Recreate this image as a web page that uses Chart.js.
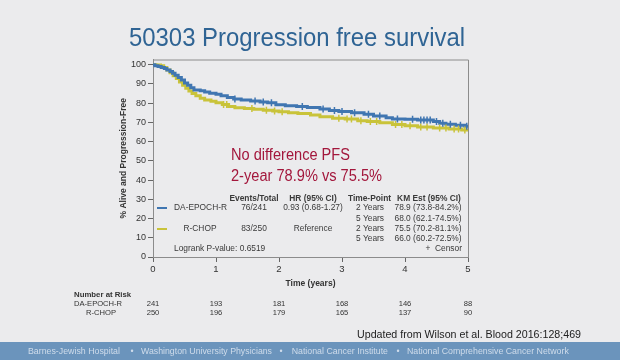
<!DOCTYPE html>
<html>
<head>
<meta charset="utf-8">
<script src="https://cdn.jsdelivr.net/npm/chart.js@4/dist/chart.umd.min.js"></script>
<style>
  html, body { margin: 0; padding: 0; background: #ebebed; }
  canvas { display: block; }
</style>
</head>
<body>
<canvas id="c" width="620" height="360"></canvas>
<script>
// ---- Data ----
const seriesNames = ["DA-EPOCH-R", "R-CHOP"];
const epochT = [0,0.03,0.08,0.13,0.18,0.22,0.27,0.31,0.35,0.40,0.45,0.50,0.55,0.60,0.65,0.75,0.82,0.90,1.00,1.08,1.18,1.28,1.40,1.55,1.70,1.82,1.95,2.10,2.28,2.45,2.65,2.80,2.95,3.15,3.35,3.50,3.70,3.80,4.00,4.20,4.45,4.55,4.65,4.80,4.95,5.00];
const epochS = [100,99.5,99,98.5,98,97.3,96.5,95.5,94.5,93.3,92,90.5,89.3,88,86.9,86.5,85.8,85.2,84.6,83.8,82.9,82.2,81.6,81.1,80.6,80.2,79.2,78.7,78.2,77.7,77.0,76.2,75.6,75.0,74.2,73.3,72.4,71.8,71.6,71.2,70.4,69.6,69.0,68.5,68.0,68.0];
const rchopT = [0,0.05,0.12,0.17,0.22,0.27,0.32,0.37,0.42,0.47,0.52,0.57,0.62,0.68,0.75,0.82,0.92,1.00,1.10,1.20,1.30,1.45,1.60,1.75,1.90,2.00,2.15,2.30,2.50,2.65,2.85,3.05,3.25,3.40,3.60,3.80,4.00,4.20,4.45,4.70,4.90,5.00];
const rchopS = [100,99.8,99.5,98.5,97.3,95.8,94.3,92.8,91,89.3,87.8,86.3,85,83.8,82.5,81.7,81.0,80.2,79.3,78.3,77.6,77.2,76.8,76.3,75.9,75.5,75.0,74.6,73.8,72.9,72.2,71.7,70.9,70.4,69.8,68.9,68.2,67.6,67.1,66.6,66.0,66.0];
const epochCensorT = [1.30,1.62,1.75,1.88,2.37,2.70,2.88,3.00,3.20,3.42,3.60,3.88,4.12,4.25,4.30,4.35,4.40,4.50,4.60,4.72,4.88,4.98];
const epochCensorS = [82.2,81.1,80.6,80.2,78.2,77.0,76.2,75.6,75.0,74.2,73.3,71.8,71.6,71.2,71.2,71.2,71.2,70.4,69.6,69.0,68.5,68.0];
const rchopCensorT = [1.12,1.17,1.57,1.80,1.93,2.05,2.95,3.08,3.15,3.30,3.45,3.55,3.85,3.95,4.08,4.25,4.35,4.55,4.65,4.78,4.85,4.95];
const rchopCensorS = [79.3,79.3,77.2,76.3,75.9,75.5,72.2,71.7,71.7,70.9,70.4,70.4,68.9,68.9,68.2,67.6,67.6,67.1,67.1,66.6,66.6,66.0];
const xTicks = [0,1,2,3,4,5];
const yTicks = [0,10,20,30,40,50,60,70,80,90,100];
const riskTimes = [0,1,2,3,4,5];
const riskEpoch = [241,193,181,168,146,88];
const riskRchop = [250,196,179,165,137,90];
const tableHeaders = ["Events/Total","HR (95% CI)","Time-Point","KM Est (95% CI)"];
const tableEpoch = ["76/241","0.93 (0.68-1.27)"];
const tableRchop = ["83/250","Reference"];
const timePoints = ["2 Years","5 Years"];
const kmEpoch = ["78.9 (73.8-84.2%)","68.0 (62.1-74.5%)"];
const kmRchop = ["75.5 (70.2-81.1%)","66.0 (60.2-72.5%)"];
const footerParts = ["Barnes-Jewish Hospital","Washington University Physicians","National Cancer Institute","National Comprehensive Cancer Network"];

const BLUE = "#4076b1";
const YELLOW = "#c9c33a";
const FONT = "'Liberation Sans', Arial, sans-serif";

const toXY = (ts, ss) => ts.map((t, i) => ({x: t, y: ss[i]}));

// draw text squeezed to a given width if wider
function txt(ctx, s, x, y, w) {
  if (w) ctx.fillText(s, x, y, w); else ctx.fillText(s, x, y);
}

const overlay = {
  id: "overlay",
  afterDraw(chart) {
    const ctx = chart.ctx;
    const a = chart.chartArea;
    const xs = chart.scales.x;
    ctx.save();
    // frame top/right
    ctx.strokeStyle = "#8c8c8c";
    ctx.lineWidth = 1;
    ctx.beginPath();
    ctx.moveTo(a.left, a.top + 0.5);
    ctx.lineTo(a.right + 0.5, a.top + 0.5);
    ctx.lineTo(a.right + 0.5, a.bottom);
    ctx.stroke();

    // title
    ctx.fillStyle = "#2f6494";
    ctx.font = "25px " + FONT;
    ctx.textAlign = "left";
    ctx.textBaseline = "alphabetic";
    txt(ctx, "50303 Progression free survival", 129, 46, 336);

    // annotation
    ctx.fillStyle = "#a3173c";
    ctx.font = "16px " + FONT;
    txt(ctx, "No difference PFS", 231, 160, 119);
    txt(ctx, "2-year 78.9% vs 75.5%", 231, 181, 151);

    // inner table
    ctx.fillStyle = "#3a3a3a";
    ctx.textBaseline = "middle";
    ctx.font = "bold 8.4px " + FONT;
    ctx.textAlign = "center";
    ctx.fillText(tableHeaders[0], 254, 198.5);
    ctx.fillText(tableHeaders[1], 313, 198.5);
    ctx.fillText(tableHeaders[2], 369.5, 198.5);
    ctx.fillText(tableHeaders[3], 429, 198.5);
    ctx.font = "8.4px " + FONT;
    ctx.textAlign = "left";
    ctx.fillText(seriesNames[0], 174, 208);
    ctx.textAlign = "center";
    ctx.fillText(seriesNames[1], 200, 229);
    ctx.fillText(tableEpoch[0], 254, 208);
    ctx.fillText(tableEpoch[1], 313, 208);
    ctx.fillText(tableRchop[0], 254, 229);
    ctx.fillText(tableRchop[1], 313, 229);
    ctx.fillText(timePoints[0], 370, 208);
    ctx.fillText(timePoints[1], 370, 218.5);
    ctx.fillText(timePoints[0], 370, 229);
    ctx.fillText(timePoints[1], 370, 239);
    ctx.fillText(kmEpoch[0], 428, 208);
    ctx.fillText(kmEpoch[1], 428, 218.5);
    ctx.fillText(kmRchop[0], 428, 229);
    ctx.fillText(kmRchop[1], 428, 239);
    ctx.textAlign = "left";
    ctx.fillText("Logrank P-value: 0.6519", 174, 249);
    ctx.textAlign = "right";
    ctx.fillText("+  Censor", 462, 249);
    // legend line samples
    ctx.lineWidth = 2;
    ctx.strokeStyle = BLUE;
    ctx.beginPath(); ctx.moveTo(157, 208); ctx.lineTo(167, 208); ctx.stroke();
    ctx.strokeStyle = YELLOW;
    ctx.beginPath(); ctx.moveTo(157, 229); ctx.lineTo(167, 229); ctx.stroke();

    // number at risk
    ctx.fillStyle = "#333";
    ctx.textAlign = "left";
    ctx.font = "bold 7.8px " + FONT;
    ctx.fillText("Number at Risk", 74, 295);
    ctx.font = "7.6px " + FONT;
    ctx.fillText(seriesNames[0], 74, 304);
    ctx.textAlign = "right";
    ctx.fillText(seriesNames[1], 116, 313);
    ctx.textAlign = "center";
    riskTimes.forEach((t, i) => {
      const px = xs.getPixelForValue(t);
      ctx.fillText(String(riskEpoch[i]), px, 304);
      ctx.fillText(String(riskRchop[i]), px, 313);
    });

    // citation
    ctx.fillStyle = "#222";
    ctx.textAlign = "left";
    ctx.font = "11.6px " + FONT;
    txt(ctx, "Updated from Wilson et al. Blood 2016:128;469", 357, 335, 224);

    // footer bar
    ctx.fillStyle = "#6b94bc";
    ctx.fillRect(0, 342, 620, 18);
    ctx.fillStyle = "#cfdceb";
    ctx.font = "8.8px " + FONT;
    ctx.textAlign = "left";
    txt(ctx, footerParts[0], 28, 352, 94);
    txt(ctx, footerParts[1], 141, 352, 131);
    ctx.textAlign = "right";
    txt(ctx, footerParts[2], 388, 352, 98);
    ctx.textAlign = "left";
    txt(ctx, footerParts[3], 407, 352, 162);
    ctx.textAlign = "center";
    ctx.fillText("\u2022", 132, 352);
    ctx.fillText("\u2022", 281, 352);
    ctx.fillText("\u2022", 398, 352);
    ctx.restore();
  }
};

new Chart(document.getElementById("c"), {
  type: "line",
  data: {
    datasets: [
      { label: seriesNames[0], data: toXY(epochT, epochS), borderColor: BLUE, borderWidth: 3, pointRadius: 0, stepped: "before", fill: false, order: 2 },
      { label: seriesNames[1], data: toXY(rchopT, rchopS), borderColor: YELLOW, borderWidth: 3, pointRadius: 0, stepped: "before", fill: false, order: 3 },
      { type: "scatter", label: "c1", data: toXY(epochCensorT, epochCensorS), pointStyle: "line", rotation: 90, pointRadius: 3.5, borderColor: BLUE, borderWidth: 1.5, backgroundColor: BLUE, order: 0 },
      { type: "scatter", label: "c2", data: toXY(rchopCensorT, rchopCensorS), pointStyle: "line", rotation: 90, pointRadius: 3.5, borderColor: YELLOW, borderWidth: 1.5, backgroundColor: YELLOW, order: 1 }
    ]
  },
  options: {
    responsive: false,
    devicePixelRatio: 1,
    animation: false,
    events: [],
    layout: { padding: { left: 108, right: 152, top: 59.5, bottom: 70 } },
    plugins: { legend: { display: false }, tooltip: { enabled: false } },
    scales: {
      x: {
        type: "linear", min: 0, max: 5,
        afterBuildTicks: s => { s.ticks = xTicks.map(v => ({value: v})); },
        afterFit: s => { s.height = 33; },
        border: { display: true, color: "#8c8c8c", width: 1 },
        grid: { drawOnChartArea: false, drawTicks: true, tickLength: 5, color: "#666" },
        ticks: { color: "#333", font: { family: FONT, size: 9.5 }, padding: 2, maxRotation: 0 },
        title: { display: true, text: "Time (years)", color: "#333", font: { family: FONT, size: 8.5, weight: "bold" }, padding: { top: 4, bottom: 1 } }
      },
      y: {
        type: "linear", min: 0, max: 102.7,
        afterBuildTicks: s => { s.ticks = yTicks.map(v => ({value: v})); },
        afterFit: s => { s.width = 45; },
        border: { display: true, color: "#8c8c8c", width: 1 },
        grid: { drawOnChartArea: false, drawTicks: true, tickLength: 5, color: "#666" },
        ticks: { color: "#333", font: { family: FONT, size: 9 }, padding: 2 },
        title: { display: true, text: "% Alive and Progression-Free", color: "#333", font: { family: FONT, size: 8.5, weight: "bold" }, padding: { top: 11, bottom: 0 } }
      }
    }
  },
  plugins: [overlay]
});
</script>
</body>
</html>
